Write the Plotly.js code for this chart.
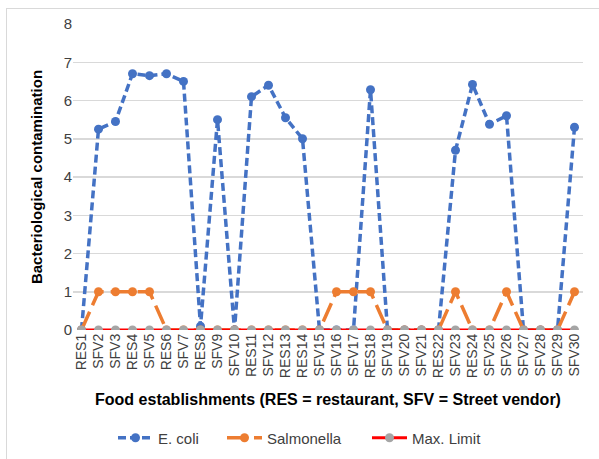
<!DOCTYPE html>
<html>
<head>
<meta charset="utf-8">
<script src="https://cdn.plot.ly/plotly-3.0.1.min.js"></script>
<style>
html,body{margin:0;padding:0;background:#fff;}
#frame{position:absolute;left:6px;top:8px;width:640px;height:500px;border-left:1px solid #d9d9d9;border-top:1px solid #d9d9d9;}
#chart{position:absolute;left:0;top:0;width:599px;height:459px;}
</style>
</head>
<body>
<div id="frame"></div>
<div id="chart"></div>
<script>
const categories = ["RES1","SFV2","SFV3","RES4","SFV5","RES6","SFV7","RES8","SFV9","SFV10",
  "RES11","SFV12","RES13","RES14","SFV15","SFV16","SFV17","RES18","SFV19","SFV20",
  "SFV21","RES22","SFV23","RES24","SFV25","SFV26","SFV27","SFV28","SFV29","SFV30"];
const ecoli = [0,5.25,5.45,6.7,6.65,6.7,6.5,0.1,5.5,0,
  6.1,6.4,5.55,5.0,0,0,0,6.28,0,0,
  0,0,4.7,6.42,5.38,5.6,0,0,0,5.3];
const salmonella = [0,1,1,1,1,0,0,0,0,0,
  0,0,0,0,0,1,1,1,0,0,
  0,0,1,0,0,1,0,0,0,1];
const maxLimit = [0,0,0,0,0,0,0,0,0,0,
  0,0,0,0,0,0,0,0,0,0,
  0,0,0,0,0,0,0,0,0,0];
const yTicks = [0,1,2,3,4,5,6,7,8];

const traces = [
  {x: categories, y: ecoli, name: "E. coli", type: "scatter", mode: "lines+markers",
   legend: "legend",
   line: {color: "#4472C4", width: 3.5, dash: "8px,4px"},
   marker: {color: "#4472C4", size: 9}},
  {x: categories, y: salmonella, name: "Salmonella", type: "scatter", mode: "lines+markers",
   legend: "legend2",
   line: {color: "#ED7D31", width: 3.5, dash: "20px,7px"},
   marker: {color: "#ED7D31", size: 9}},
  {x: categories, y: maxLimit, name: "Max. Limit", type: "scatter", mode: "lines+markers",
   legend: "legend3",
   line: {color: "#FF0000", width: 3},
   marker: {color: "#A5A5A5", size: 9}}
];

function legendAt(px) {
  return {orientation: "h", xref: "container", yref: "container",
    x: (px - 5) / 599, xanchor: "left", y: 1 - 438 / 459, yanchor: "middle",
    itemwidth: 35, bgcolor: "rgba(0,0,0,0)",
    font: {size: 15, color: "#404040"}};
}

const layout = {
  width: 599, height: 459,
  margin: {l: 73, r: 16, t: 24, b: 129},
  paper_bgcolor: "rgba(0,0,0,0)",
  plot_bgcolor: "rgba(0,0,0,0)",
  font: {family: "Liberation Sans, Arial, sans-serif", color: "#404040"},
  showlegend: true,
  legend: legendAt(118),
  legend2: legendAt(227),
  legend3: legendAt(372),
  xaxis: {
    type: "category", range: [-0.5, 29.5], tickangle: -90, automargin: false,
    tickfont: {size: 14, color: "#404040"},
    showgrid: false, zeroline: false, showline: false, ticks: "",
    title: {text: "<b>Food establishments (RES = restaurant, SFV = Street vendor)</b>",
      font: {size: 16, color: "#000"}, standoff: 16}
  },
  yaxis: {
    range: [0, 8], tickvals: yTicks, ticktext: yTicks.map(String), automargin: false,
    tickfont: {size: 15, color: "#404040"},
    showgrid: true, gridcolor: "#d9d9d9", gridwidth: 1.5,
    zeroline: false, showline: false, ticks: "",
    title: {text: "<b>Bacteriological contamination</b>", font: {size: 15, color: "#000"}, standoff: 17}
  }
};

Plotly.newPlot("chart", traces, layout, {displayModeBar: false, staticPlot: true});
</script>
</body>
</html>
